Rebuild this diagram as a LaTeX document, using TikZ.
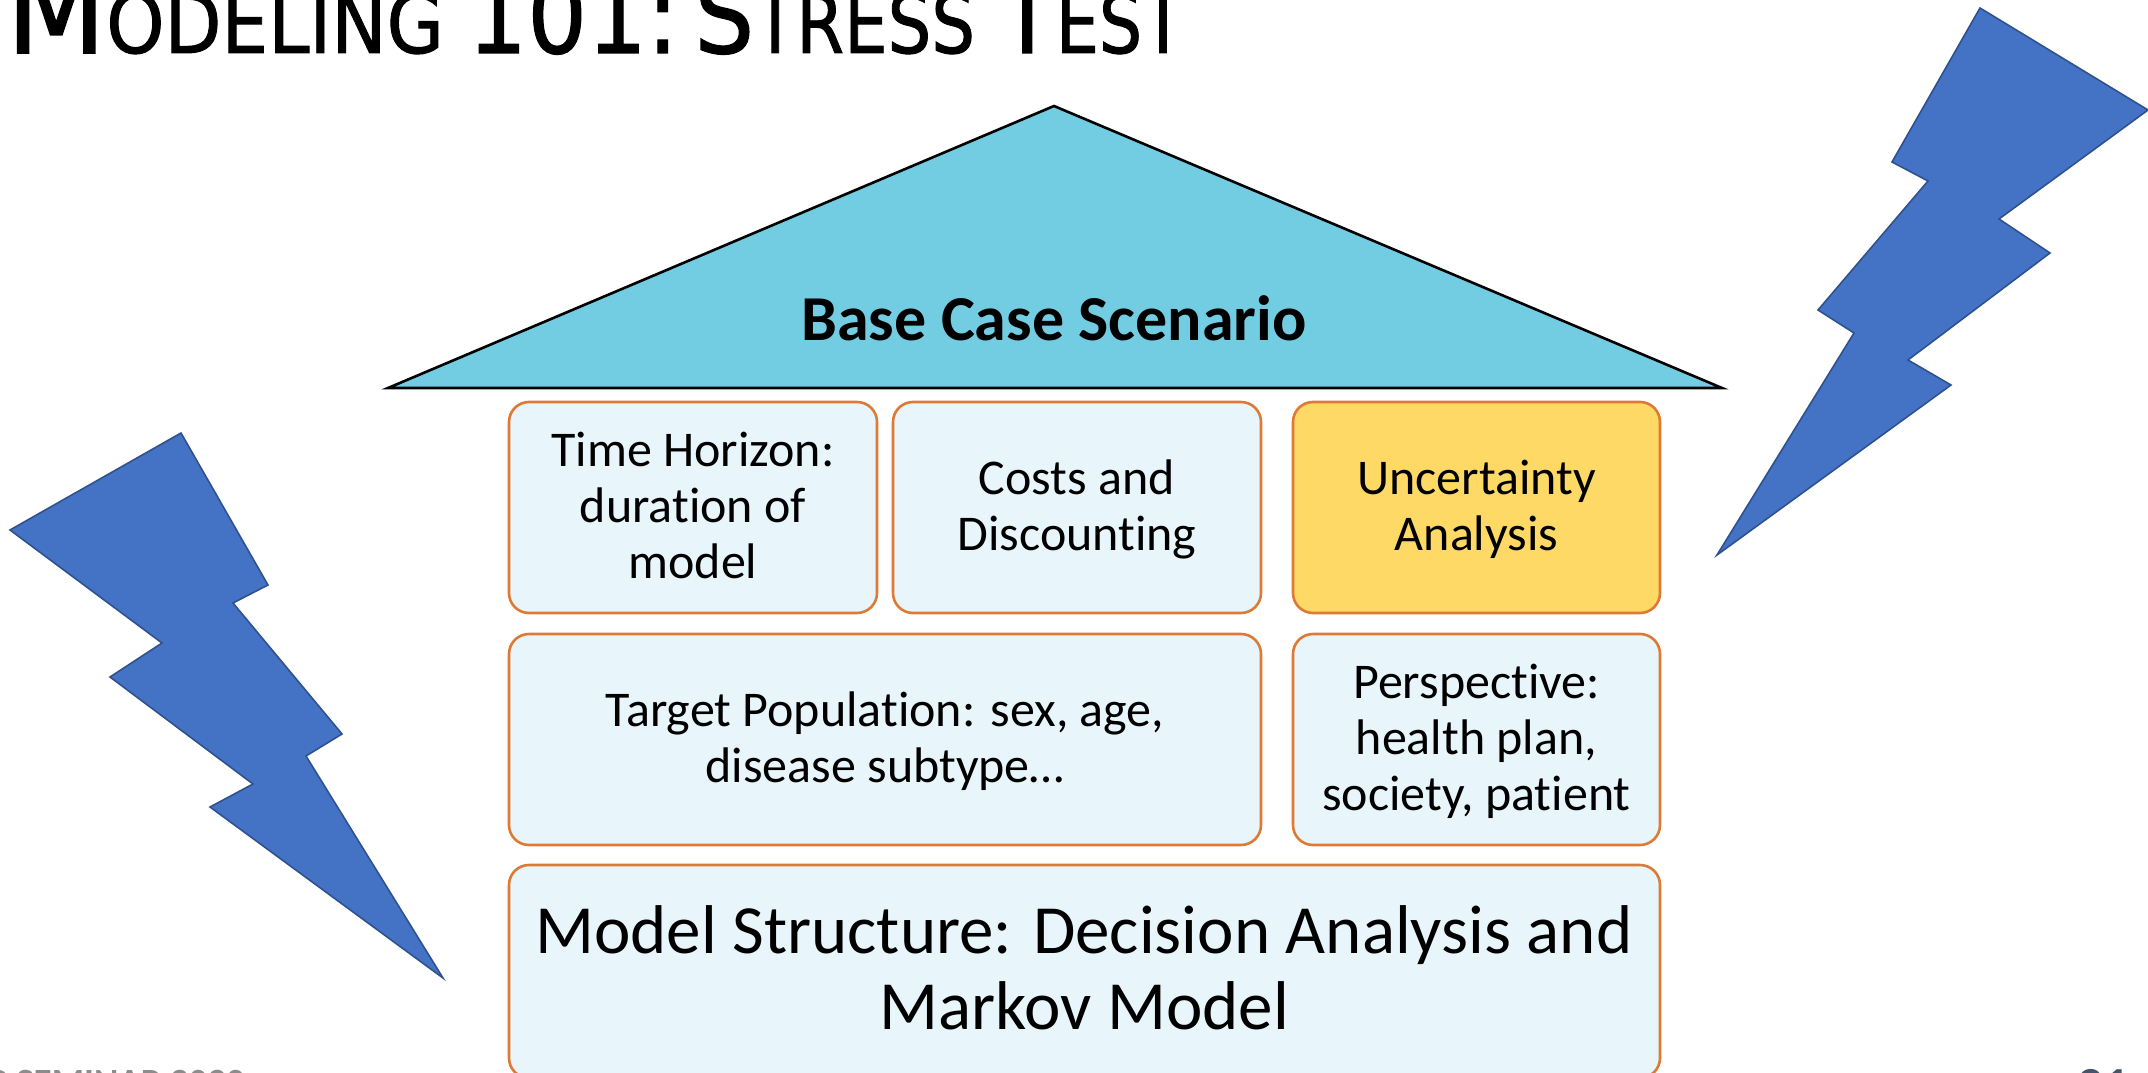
\documentclass[tikz,border=0pt]{standalone}
\usepackage{fontspec}
\setmainfont[Ligatures=NoCommon]{Carlito}
\newfontfamily\titlefont[FakeBold=1.2]{DejaVu Sans}
\definecolor{paleblue}{HTML}{E8F6FB}
\definecolor{edgeorange}{HTML}{DD7A35}
\definecolor{roofblue}{HTML}{72CDE3}
\definecolor{boltblue}{HTML}{4472C4}
\definecolor{boltedge}{HTML}{2F528F}
\definecolor{yellowbox}{HTML}{FFD966}
\definecolor{footgrey}{HTML}{8C8C8C}
\definecolor{pagenum}{HTML}{44546A}
\newcommand{\tallcap}[2][94]{{\fontsize{#1}{#1}\selectfont #2}}
\tikzset{
 bricktxt/.style={font=\fontsize{50}{56}\selectfont,align=center,text=black},
 brick/.style={draw=edgeorange,line width=2.6pt,fill=paleblue,rounded corners=20pt},
 goldbrick/.style={brick,fill=yellowbox},
 bolt/.style={draw=boltedge,line width=1.6pt,fill=boltblue,line join=miter},
 roof/.style={draw=black,line width=2.6pt,fill=roofblue,line join=miter}
}
\newcommand{\brickat}[6]{%
 \draw[#6] (#1,#2) rectangle (#3,#4);
 \node[bricktxt] at ({(#1+#3)/2},{(#2+#4)/2+1.5}) {#5};}
\begin{document}
\begin{tikzpicture}[x=1pt,y=-1pt]
\useasboundingbox (0,0) rectangle (2148,1073);
\clip (0,0) rectangle (2148,1073);
\fill[white] (0,0) rectangle (2148,1073);
% title
\node[anchor=base west,inner sep=0,font=\titlefont\fontsize{74}{74}\selectfont] (title) at (6,53)
 {\scalebox{1}[1.12]{\tallcap[116]{M}ODELING \tallcap{101:}\hskip16pt\tallcap{S}\scalebox{.93}[1]{TRESS} \tallcap{T}\scalebox{.92}[1]{EST}}};
% roof
\draw[roof] (1054,106) -- (1722,388) -- (388,388) -- cycle;
\node[font=\fontsize{64}{70}\selectfont\bfseries] (roofl) at (1054,318) {Base Case Scenario};
% bricks
\draw[brick] (509,402) rectangle (877,613);
\node[bricktxt] (horizon) at (693,505) {Time Horizon:\\duration of\\model};
\brickat{893}{402}{1261}{613}{Costs and\\Discounting}{brick}
\brickat{1293}{402}{1660}{613}{Uncertainty\\Analysis}{goldbrick}
\brickat{509}{634}{1261}{845}{Target Population: sex, age,\\disease subtype…}{brick}
\brickat{1293}{634}{1660}{845}{Perspective:\\health plan,\\society, patient}{brick}
\draw[brick] (509,865) rectangle (1660,1078);
\node[bricktxt,font=\fontsize{69}{76}\selectfont] (ms) at (1084,968) {Model Structure: Decision Analysis and\\Markov Model};
% bolts
\draw[bolt] (181,433) -- (268,585) -- (233,603) -- (342,734) -- (306,756) -- (443,978) -- (210,807) -- (253,784) -- (110,677) -- (162,643) -- (10,530) -- cycle;
\draw[bolt] (1980,8) -- (2148,110) -- (1999,219) -- (2050,253) -- (1908,360) -- (1951,385) -- (1717,555) -- (1854,333) -- (1818,310) -- (1928,181) -- (1892,162) -- cycle;
% footer
\node[anchor=base west,inner sep=0,text=footgrey,font=\fontsize{37}{40}\selectfont\bfseries] (foot) at (-12,1094) {P SEMINAR 2020};
\node[anchor=base east,inner sep=0,text=pagenum,font=\fontsize{52}{54}\selectfont\bfseries] (page) at (2130,1103) {21};
\end{tikzpicture}
\end{document}
